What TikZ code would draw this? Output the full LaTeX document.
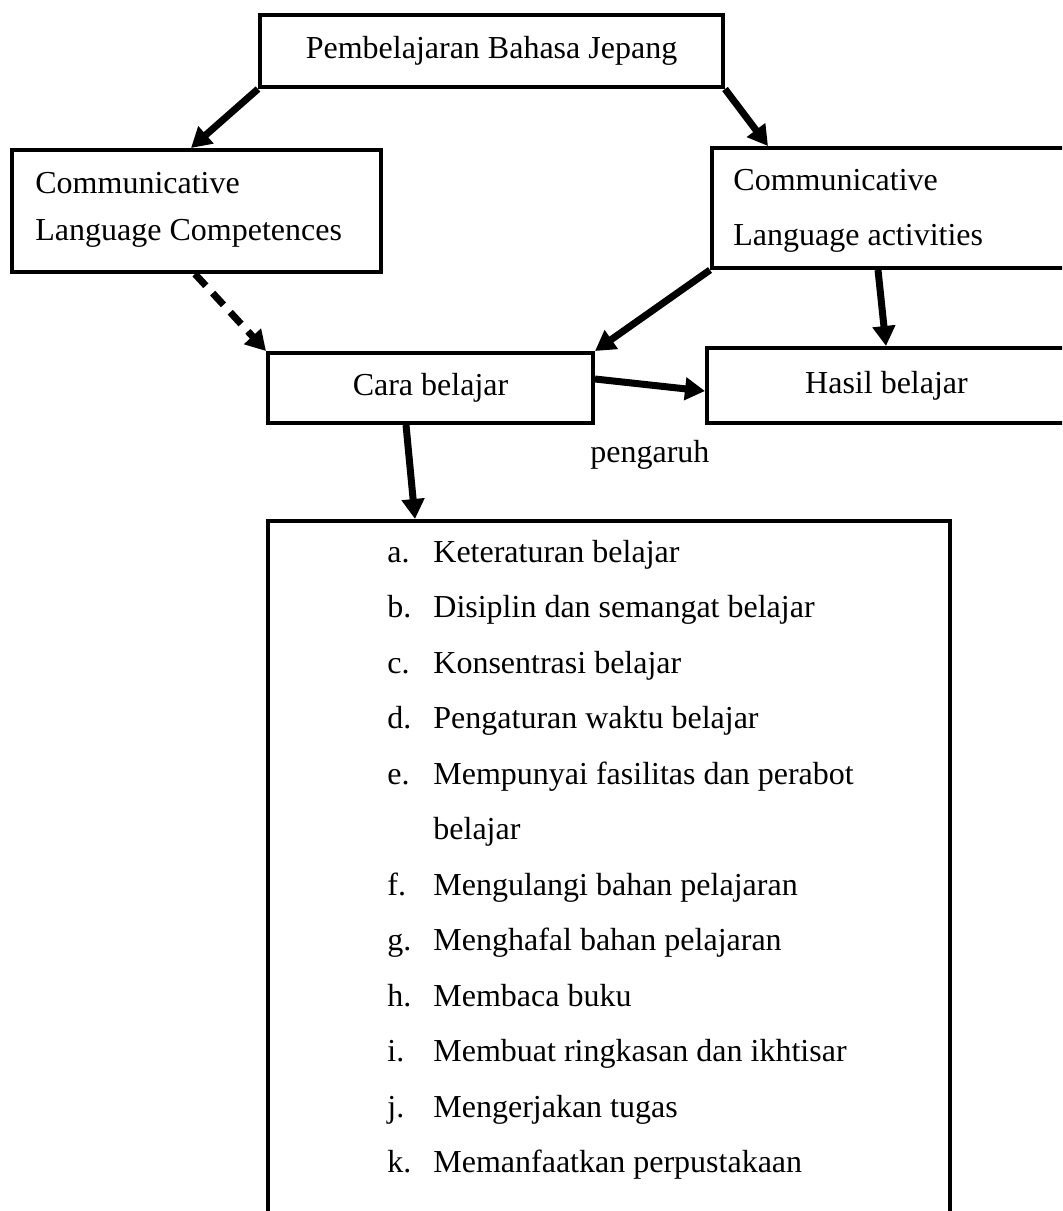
\documentclass[tikz,border=0pt]{standalone}
\usepackage{fontspec}
\setmainfont{Liberation Serif}
\usetikzlibrary{arrows.meta,calc}
\begin{document}
\begin{tikzpicture}[x=0.5pt,y=-0.5pt,
  box/.style={draw=black,line width=2pt,inner sep=0pt,fill=white},
  txt/.style={inner sep=0pt,anchor=base west,font=\fontsize{16}{20}\selectfont},
  ctxt/.style={font=\fontsize{16}{20}\selectfont},
  arr/.style={line width=3.5pt,-{Triangle[length=10pt,width=11pt]}},
  darr/.style={arr,dash pattern=on 8pt off 5pt}]
\useasboundingbox (0,0) rectangle (1062,1211);
\clip (0,0) rectangle (1062,1211);
% boxes
\node[box,ctxt,minimum width=231.5pt,minimum height=36pt] (top) at (491.5,51) {Pembelajaran Bahasa Jepang};
\node[box,minimum width=184.5pt,minimum height=61pt] (left) at (196.5,211) {};
\node[box,minimum width=178pt,minimum height=60pt] (right) at (890,208) {};
\node[box,ctxt,minimum width=162.5pt,minimum height=35pt] (cara) at (430.5,388) {Cara belajar};
\node[box,ctxt,minimum width=179.5pt,minimum height=37.5pt] (hasil) at (886.5,385.5) {Hasil belajar};
\node[box,minimum width=341pt,minimum height=359.5pt] (list) at (609,880.5) {};
% box texts
\node[txt] (l1) at (35,193) {Communicative};
\node[txt] (l2) at (35,240) {Language Competences};
\node[txt] (r1) at (733,190) {Communicative};
\node[txt] (r2) at (733,245) {Language activities};
\node[txt] (peng) at (590,462) {pengaruh};
% list
\foreach \lab/\t [count=\i from 0] in {a./Keteraturan belajar,b./Disiplin dan semangat belajar,c./Konsentrasi belajar,d./Pengaturan waktu belajar,e./Mempunyai fasilitas dan perabot,/belajar,f./Mengulangi bahan pelajaran,g./Menghafal bahan pelajaran,h./Membaca buku,i./Membuat ringkasan dan ikhtisar,j./Mengerjakan tugas,k./Memanfaatkan perpustakaan}{
  \node[txt] (L\i) at (387,562+55.5*\i) {\lab};
  \node[txt] (T\i) at (433,562+55.5*\i) {\t};
}
% connectors
\draw[arr] (top.south west) -- ($(left.north west)+(181,0)$);
\draw[arr] (top.south east) -- ($(right.north west)+(58,0)$);
\draw[darr] ($(left.south west)+(185,0)$) -- (cara.north west);
\draw[arr] (right.south west) -- (cara.north east);
\draw[arr] ($(right.south west)+(168,0)$) -- ($(hasil.north west)+(181,0)$);
\draw[arr] ($(cara.north east)+(0,28)$) -- ($(hasil.north west)+(0,45)$);
\draw[arr] ($(cara.south west)+(140,0)$) -- ($(list.north west)+(149,0)$);
\end{tikzpicture}
\end{document}
